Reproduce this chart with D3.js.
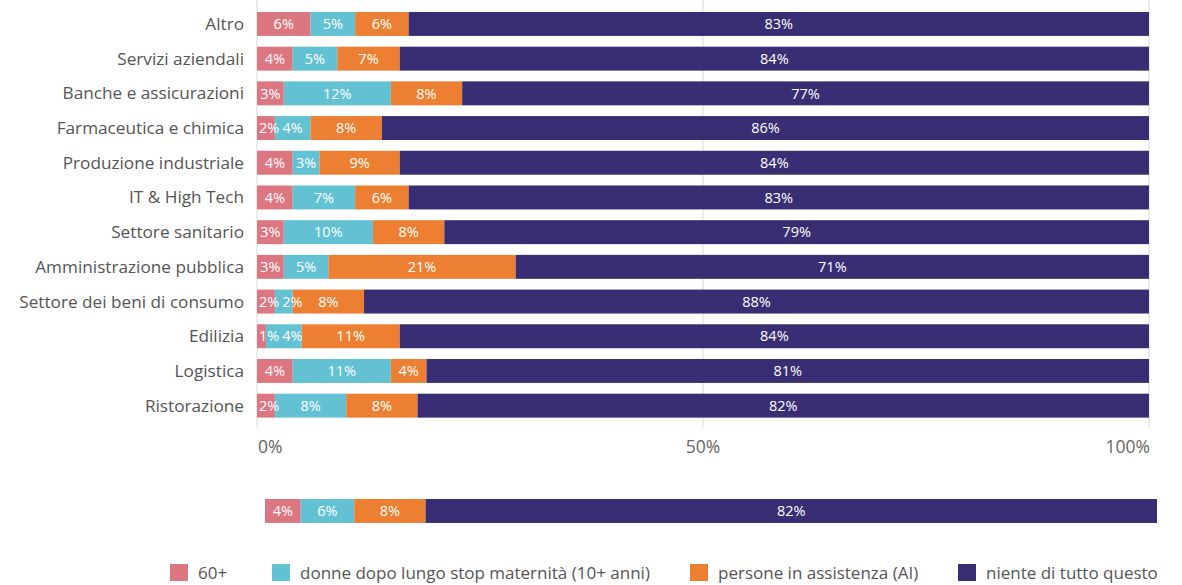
<!DOCTYPE html>
<html>
<head>
<meta charset="utf-8">
<script src="https://cdn.jsdelivr.net/npm/d3@7"></script>
<style>
  html, body { margin: 0; padding: 0; background: #fff; }
  svg { display: block; font-family: "Open Sans", sans-serif; }
</style>
</head>
<body>
<svg id="chart" width="1182" height="585"></svg>
<script>
// Sectors (top to bottom)
const categories = [
  "Altro", "Servizi aziendali", "Banche e assicurazioni", "Farmaceutica e chimica",
  "Produzione industriale", "IT & High Tech", "Settore sanitario",
  "Amministrazione pubblica", "Settore dei beni di consumo", "Edilizia",
  "Logistica", "Ristorazione"
];
const seriesNames = [
  "60+", "donne dopo lungo stop maternità (10+ anni)",
  "persone in assistenza (AI)", "niente di tutto questo"
];
// Shares per sector, in percent
const over60     = [6, 4, 3, 2, 4, 4, 3, 3, 2, 1, 4, 2];
const maternity  = [5, 5, 12, 4, 3, 7, 10, 5, 2, 4, 11, 8];
const assistance = [6, 7, 8, 8, 9, 6, 8, 21, 8, 11, 4, 8];
const noneOfThese = [83, 84, 77, 86, 84, 83, 79, 71, 88, 84, 81, 82];
// Overall totals
const totalValues = [4, 6, 8, 82];
const tickValues = [0, 50, 100];

const colors = ["#dc7680", "#62c2d4", "#ec7f31", "#392d74"];

const svg = d3.select("#chart");

const rows = categories.map((c, i) => ({
  cat: c,
  vals: [over60[i], maternity[i], assistance[i], noneOfThese[i]]
}));

const x = d3.scaleLinear().domain([0, 100]).range([257, 1149]);
const xTotal = d3.scaleLinear().domain([0, 100]).range([265, 1157]);
const step = 34.7;
const y = d3.scaleBand().domain(categories)
  .range([6.6, 6.6 + categories.length * step])
  .paddingInner(0.31).paddingOuter(0.155);

// Gridlines
svg.append("g").selectAll("line").data(tickValues).join("line")
  .attr("x1", d => x(d)).attr("x2", d => x(d))
  .attr("y1", 0).attr("y2", 428)
  .attr("stroke", "#e6e6e6").attr("stroke-width", 1.5);

// Tick labels
svg.append("g").selectAll("text").data(tickValues).join("text")
  .attr("x", d => x(d) + (d === 0 ? 1 : d === 100 ? 1 : 0))
  .attr("y", 453)
  .attr("text-anchor", d => d === 0 ? "start" : d === 100 ? "end" : "middle")
  .attr("fill", "#666")
  .attr("font-size", 17.5)
  .text(d => d + "%");

// Category labels
svg.append("g").selectAll("text").data(categories).join("text")
  .attr("x", 244)
  .attr("y", d => y(d) + y.bandwidth() / 2)
  .attr("dy", "0.35em")
  .attr("text-anchor", "end")
  .attr("fill", "#555")
  .attr("font-size", 17.2)
  .text(d => d);

function stackSegments(vals) {
  let acc = 0;
  return vals.map((v, k) => {
    const s = { k, v, x0: acc, x1: acc + v };
    acc += v;
    return s;
  });
}

function drawBar(g, vals, scale, y0, h) {
  const segs = stackSegments(vals);
  g.selectAll("rect").data(segs).join("rect")
    .attr("x", d => scale(d.x0))
    .attr("y", y0)
    .attr("width", d => scale(d.x1) - scale(d.x0))
    .attr("height", h)
    .attr("fill", d => colors[d.k]);
  // labels: centred in their segment, nudged right when a thin
  // segment would make them spill past the bar start or the previous label
  let prevRight = scale(0) - 1;
  g.selectAll("text").data(segs).join("text")
    .attr("y", y0 + h / 2)
    .attr("dy", "0.36em")
    .attr("text-anchor", "middle")
    .attr("fill", "#fff")
    .attr("font-size", 14.5)
    .text(d => d.v + "%")
    .attr("x", function(d) {
      const half = this.getComputedTextLength() / 2;
      const cx = Math.max((scale(d.x0) + scale(d.x1)) / 2, prevRight + 3 + half);
      prevRight = cx + half;
      return cx;
    });
}

rows.forEach(r => {
  drawBar(svg.append("g"), r.vals, x, y(r.cat), y.bandwidth());
});

// Overall bar
drawBar(svg.append("g"), totalValues, xTotal, 499, y.bandwidth());

// Legend
const legendX = [170, 272, 690, 958];
const lg = svg.append("g").selectAll("g").data(seriesNames).join("g")
  .attr("transform", (d, i) => `translate(${legendX[i]},564)`);
lg.append("rect").attr("width", 18).attr("height", 17)
  .attr("fill", (d, i) => colors[i]);
lg.append("text").attr("x", 28).attr("y", 8.5).attr("dy", "0.36em")
  .attr("fill", "#555").attr("font-size", 17).text(d => d);
</script>
</body>
</html>
